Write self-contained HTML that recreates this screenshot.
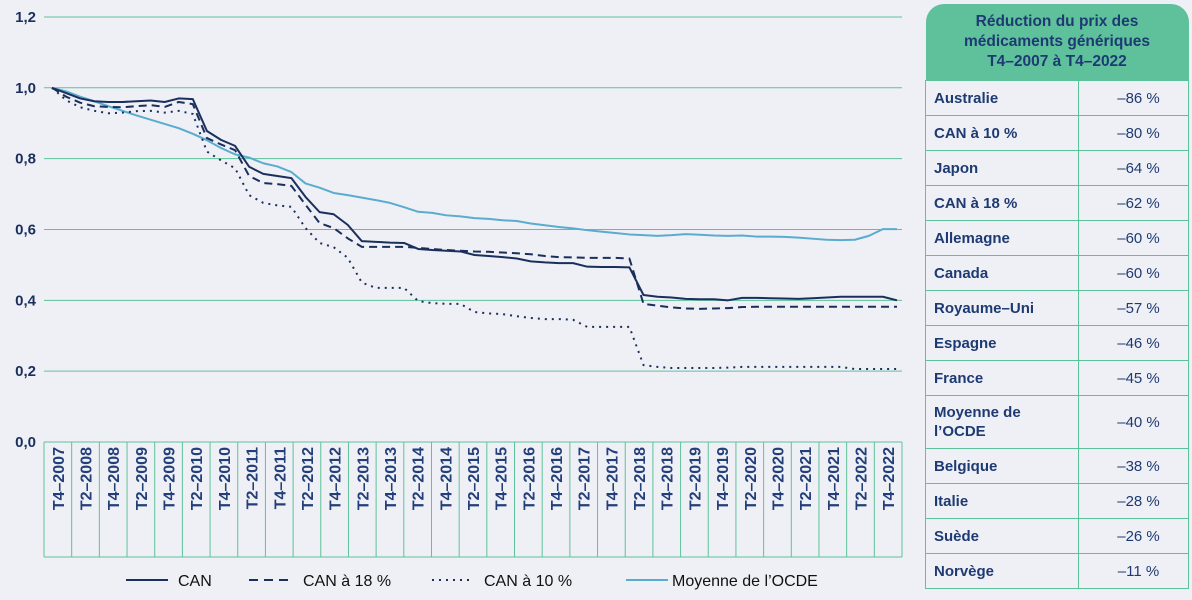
<!DOCTYPE html>
<html><head><meta charset="utf-8"><style>
body{margin:0;background:#eff0f5;font-family:"Liberation Sans",sans-serif;}
#wrap{position:relative;width:1192px;height:600px;overflow:hidden;background:#eff0f5}
table{position:absolute;left:925px;top:4px;width:263px;border-collapse:collapse;color:#1e3a72;font-size:15px;table-layout:fixed}
th{background:#5fc19c;height:76px;font-weight:bold;font-size:15.5px;line-height:20px;text-align:center;border-radius:18px 18px 0 0;padding:0 6px}
td{border:1px solid #5cc29a;height:34px;padding:0 8px;}
td.n{font-weight:bold}
td.v{text-align:center;padding-left:18px}
</style></head><body>
<div id="wrap">
<svg id="chart" width="920" height="600" style="position:absolute;left:0;top:0"></svg>
<table>
<colgroup><col style="width:153px"><col style="width:110px"></colgroup>
<tr><th colspan="2">Réduction du prix des<br>médicaments génériques<br>T4–2007 à T4–2022</th></tr>
<tr><td class="n">Australie</td><td class="v">–86 %</td></tr>
<tr><td class="n">CAN à 10 %</td><td class="v">–80 %</td></tr>
<tr><td class="n">Japon</td><td class="v">–64 %</td></tr>
<tr><td class="n">CAN à 18 %</td><td class="v">–62 %</td></tr>
<tr><td class="n">Allemagne</td><td class="v">–60 %</td></tr>
<tr><td class="n">Canada</td><td class="v">–60 %</td></tr>
<tr><td class="n">Royaume–Uni</td><td class="v">–57 %</td></tr>
<tr><td class="n">Espagne</td><td class="v">–46 %</td></tr>
<tr><td class="n">France</td><td class="v">–45 %</td></tr>
<tr><td class="n" style="height:52px;line-height:19px">Moyenne de<br>l’OCDE</td><td class="v">–40 %</td></tr>
<tr><td class="n">Belgique</td><td class="v">–38 %</td></tr>
<tr><td class="n">Italie</td><td class="v">–28 %</td></tr>
<tr><td class="n">Suède</td><td class="v">–26 %</td></tr>
<tr><td class="n">Norvège</td><td class="v">–11 %</td></tr>
</table>
</div>
<script>
const yTicks=[0,0.2,0.4,0.6,0.8,1.0,1.2];
const yTickLabels=["0,0","0,2","0,4","0,6","0,8","1,0","1,2"];
const xLabels=[];
for(let y=2007;y<=2022;y++){ if(y>2007) xLabels.push("T2–"+y); xLabels.push("T4–"+y); }
const canValues=[1.0,0.985,0.97,0.962,0.96,0.96,0.962,0.964,0.96,0.97,0.968,0.878,0.853,0.836,0.777,0.757,0.751,0.745,0.692,0.649,0.643,0.613,0.567,0.565,0.563,0.562,0.545,0.542,0.54,0.538,0.528,0.525,0.522,0.518,0.51,0.507,0.505,0.505,0.495,0.494,0.494,0.493,0.415,0.41,0.408,0.404,0.403,0.403,0.40,0.407,0.407,0.406,0.405,0.404,0.406,0.408,0.41,0.41,0.41,0.41,0.40];
const can18Values=[1.0,0.975,0.958,0.948,0.946,0.945,0.948,0.951,0.946,0.96,0.954,0.858,0.84,0.824,0.751,0.731,0.728,0.723,0.67,0.618,0.604,0.575,0.551,0.551,0.551,0.551,0.548,0.545,0.542,0.54,0.538,0.537,0.535,0.533,0.53,0.525,0.522,0.521,0.52,0.52,0.52,0.518,0.39,0.385,0.38,0.377,0.376,0.377,0.378,0.381,0.382,0.382,0.382,0.382,0.382,0.382,0.382,0.382,0.382,0.382,0.382];
const can10Values=[1.0,0.965,0.945,0.935,0.928,0.93,0.934,0.935,0.93,0.935,0.926,0.82,0.795,0.773,0.697,0.675,0.668,0.664,0.604,0.562,0.55,0.52,0.45,0.435,0.435,0.435,0.398,0.392,0.39,0.39,0.367,0.363,0.361,0.355,0.35,0.347,0.347,0.345,0.325,0.325,0.325,0.325,0.217,0.212,0.209,0.209,0.209,0.209,0.21,0.212,0.212,0.212,0.212,0.212,0.212,0.212,0.212,0.206,0.206,0.206,0.206];
const ocdeValues=[1.0,0.99,0.975,0.962,0.948,0.935,0.922,0.91,0.898,0.886,0.87,0.852,0.83,0.812,0.803,0.787,0.778,0.762,0.73,0.718,0.703,0.697,0.69,0.683,0.675,0.663,0.65,0.647,0.64,0.637,0.632,0.63,0.626,0.624,0.617,0.612,0.607,0.603,0.598,0.594,0.59,0.586,0.584,0.582,0.584,0.587,0.585,0.583,0.582,0.583,0.58,0.58,0.579,0.577,0.574,0.571,0.57,0.571,0.582,0.601,0.601];

const svg=document.getElementById('chart');
const NS="http://www.w3.org/2000/svg";
const navy="#1b2f5c",green="#5cc29a",light="#5aaccf";
const L=44,R=902,T0=442,yScale=v=>442-v*354.2;
const xq=i=>52+i*(845/60);
function mk(t,a){const e=document.createElementNS(NS,t);for(const k in a)e.setAttribute(k,a[k]);svg.appendChild(e);return e;}
yTicks.forEach((v,i)=>{
 const l=mk('line',{x1:L,x2:R,y1:yScale(v),y2:yScale(v),stroke:green,'stroke-width':1});
 
 
 const t=mk('text',{x:36,y:yScale(v)+5,'text-anchor':'end','font-size':15,'font-weight':'bold',fill:navy,'font-family':'Liberation Sans'});
 t.textContent=yTickLabels[i];
 
 
});
const cw=(R-L)/xLabels.length;
for(let k=0;k<=xLabels.length;k++){
 const l=mk('line',{x1:L+k*cw,x2:L+k*cw,y1:T0,y2:557,stroke:green,'stroke-width':1});
 
 
}
const b=mk('line',{x1:L,x2:R,y1:557,y2:557,stroke:green,'stroke-width':1});


xLabels.forEach((s,k)=>{
 const cx=L+k*cw+cw/2+6;
 const t=mk('text',{x:cx,y:447,'text-anchor':'end','font-size':16,'font-weight':'bold',fill:'#233f7a','font-family':'Liberation Sans',transform:`rotate(-90 ${cx} 447)`});
 t.textContent=s;
 
 
});
function series(vals,color,dash,name,w){
 const p=mk('polyline',{points:vals.map((v,i)=>xq(i)+','+yScale(v)).join(' '),fill:'none',stroke:color,'stroke-width':w,'stroke-dasharray':dash,'stroke-linejoin':'round'});
 
 
}
series(ocdeValues,light,'none','series-ocde',2);
series(can10Values,navy,'2 5','series-can-10',2);
series(can18Values,navy,'8 5','series-can-18',2);
series(canValues,navy,'none','series-can',2);
const legend=[["CAN",'none',navy,126,178],["CAN à 18 %",'9 6',navy,249,303],["CAN à 10 %",'2 5',navy,432,484],["Moyenne de l’OCDE",'none',light,626,672]];
legend.forEach(g=>{
 const l=mk('line',{x1:g[3],x2:g[3]+42,y1:580,y2:580,stroke:g[2],'stroke-width':2,'stroke-dasharray':g[1]});
 
 
 const t=mk('text',{x:g[4],y:586,'font-size':16,fill:'#111','font-family':'Liberation Sans'});
 t.textContent=g[0];
 
 
});
</script>
</body></html>
